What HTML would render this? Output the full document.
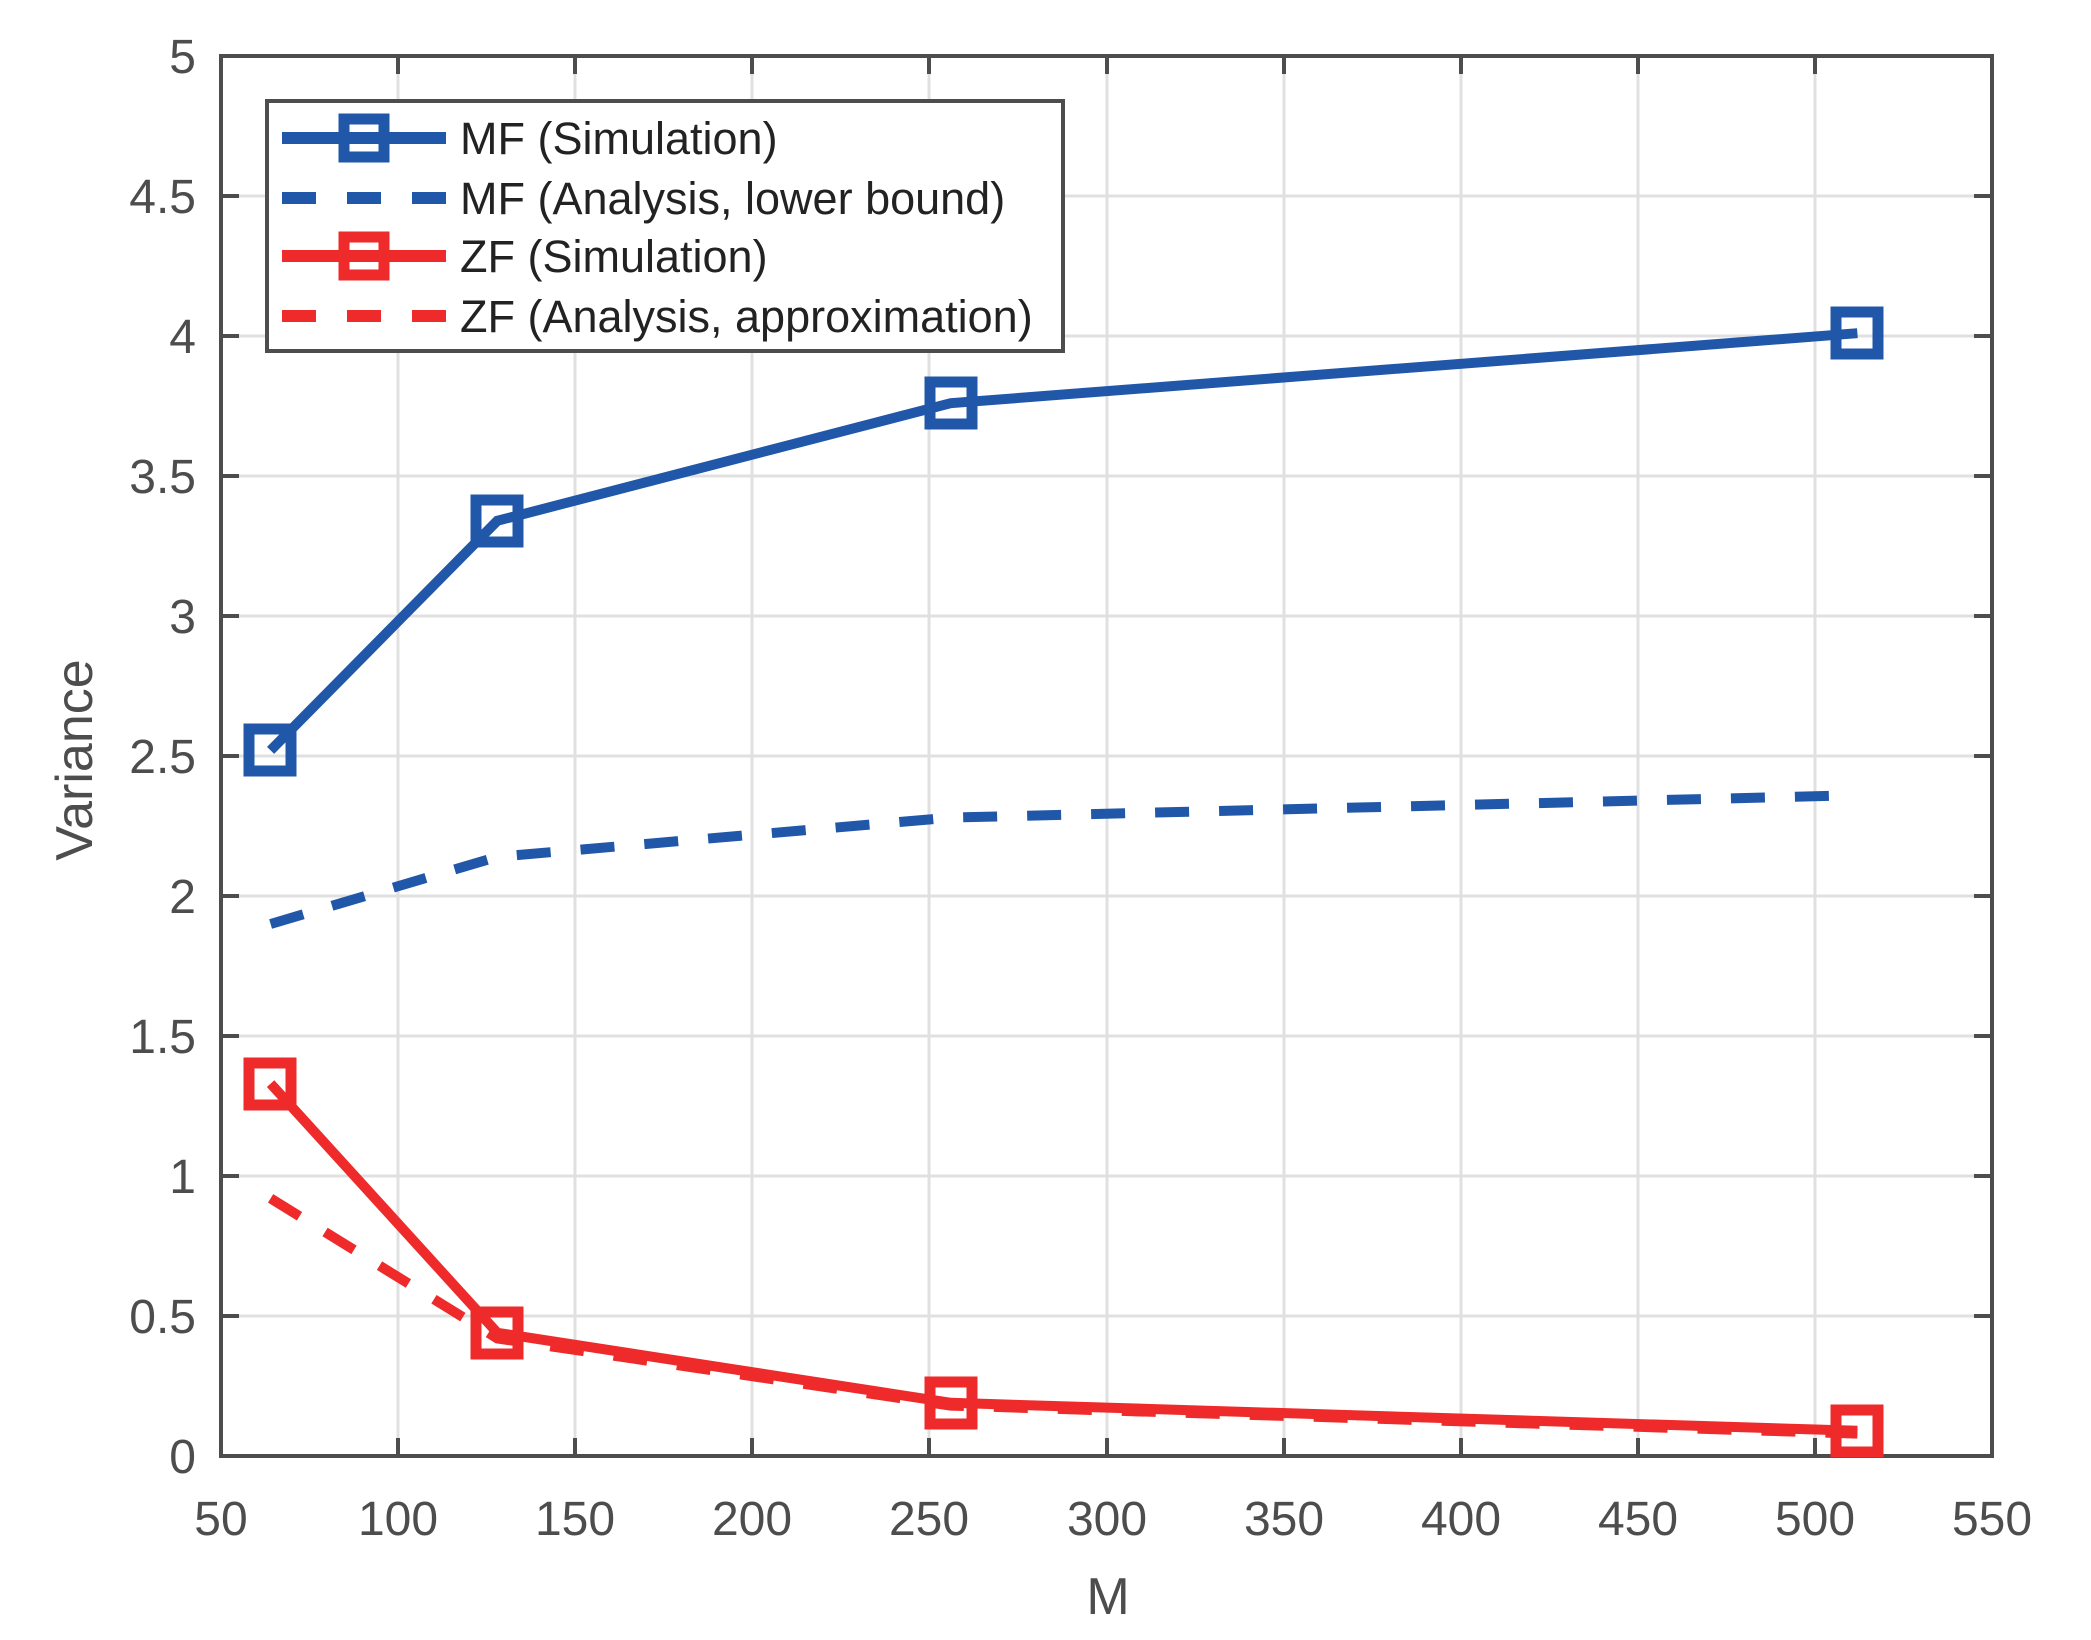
<!DOCTYPE html>
<html><head><meta charset="utf-8"><style>body{margin:0;background:#fff}svg{display:block}</style></head><body>
<svg width="2091" height="1640" viewBox="0 0 2091 1640" xmlns="http://www.w3.org/2000/svg" font-family="Liberation Sans, sans-serif">
<rect width="2091" height="1640" fill="#fff"/>
<g stroke="#e0e0e0" stroke-width="3">
<line x1="398" y1="56" x2="398" y2="1456"/><line x1="575" y1="56" x2="575" y2="1456"/><line x1="752" y1="56" x2="752" y2="1456"/><line x1="929" y1="56" x2="929" y2="1456"/><line x1="1107" y1="56" x2="1107" y2="1456"/><line x1="1284" y1="56" x2="1284" y2="1456"/><line x1="1461" y1="56" x2="1461" y2="1456"/><line x1="1638" y1="56" x2="1638" y2="1456"/><line x1="1815" y1="56" x2="1815" y2="1456"/>
<line x1="221" y1="196" x2="1992" y2="196"/><line x1="221" y1="336" x2="1992" y2="336"/><line x1="221" y1="476" x2="1992" y2="476"/><line x1="221" y1="616" x2="1992" y2="616"/><line x1="221" y1="756" x2="1992" y2="756"/><line x1="221" y1="896" x2="1992" y2="896"/><line x1="221" y1="1036" x2="1992" y2="1036"/><line x1="221" y1="1176" x2="1992" y2="1176"/><line x1="221" y1="1316" x2="1992" y2="1316"/>
</g>
<g stroke="#4d4d4d" stroke-width="4">
<rect x="221" y="56" width="1771" height="1400" fill="none"/>
<path d="M398 1456v-18M575 1456v-18M752 1456v-18M929 1456v-18M1107 1456v-18M1284 1456v-18M1461 1456v-18M1638 1456v-18M1815 1456v-18M398 56v18M575 56v18M752 56v18M929 56v18M1107 56v18M1284 56v18M1461 56v18M1638 56v18M1815 56v18"/>
<path d="M221 196h18M221 336h18M221 476h18M221 616h18M221 756h18M221 896h18M221 1036h18M221 1176h18M221 1316h18M1992 196h-18M1992 336h-18M1992 476h-18M1992 616h-18M1992 756h-18M1992 896h-18M1992 1036h-18M1992 1176h-18M1992 1316h-18"/>
</g>
<g fill="#4d4d4d" font-size="48" text-anchor="end">
<text x="196" y="73">5</text><text x="196" y="213">4.5</text><text x="196" y="353">4</text><text x="196" y="493">3.5</text><text x="196" y="633">3</text><text x="196" y="773">2.5</text><text x="196" y="913">2</text><text x="196" y="1053">1.5</text><text x="196" y="1193">1</text><text x="196" y="1333">0.5</text><text x="196" y="1473">0</text>
</g>
<g fill="#4d4d4d" font-size="48" text-anchor="middle">
<text x="221" y="1535">50</text><text x="398" y="1535">100</text><text x="575" y="1535">150</text><text x="752" y="1535">200</text><text x="929" y="1535">250</text><text x="1107" y="1535">300</text><text x="1284" y="1535">350</text><text x="1461" y="1535">400</text><text x="1638" y="1535">450</text><text x="1815" y="1535">500</text><text x="1992" y="1535">550</text>
<text x="1108" y="1614" font-size="52">M</text>
<text transform="translate(92,760) rotate(-90)" font-size="52">Variance</text>
</g>
<g fill="none" stroke-width="10">
<polyline stroke="#2157a8" stroke-dasharray="34 30" points="270.6,924 497.3,856.8 950.7,817.6 1857.4,795.2"/>
<polyline stroke="#ee2a2a" stroke-dasharray="34 30" points="270.6,1198.4 497.3,1338.4 950.7,1405.6 1857.4,1433.6"/>
<polyline stroke="#2157a8" points="270.6,750.4 497.3,520.8 950.7,403.2 1857.4,333.2"/>
<polyline stroke="#ee2a2a" points="270.6,1083.6 497.3,1332.8 950.7,1402.8 1857.4,1430.8"/>
</g>
<g fill="none" stroke-width="11">
<g stroke="#2157a8"><rect x="249" y="729" width="42" height="42"/><rect x="476" y="500" width="42" height="42"/><rect x="930" y="382" width="42" height="42"/><rect x="1836" y="312" width="42" height="42"/></g>
<g stroke="#ee2a2a"><rect x="249" y="1063" width="42" height="42"/><rect x="476" y="1312" width="42" height="42"/><rect x="930" y="1382" width="42" height="42"/><rect x="1836" y="1410" width="42" height="42"/></g>
</g>
<rect x="267" y="101" width="796" height="250" fill="#fff" stroke="#4d4d4d" stroke-width="4"/>
<g stroke-width="12" fill="none">
<line x1="282" y1="138" x2="446" y2="138" stroke="#2157a8"/>
<rect x="344" y="119" width="40" height="38" stroke="#2157a8" stroke-width="11"/>
<line x1="282" y1="198" x2="446" y2="198" stroke="#2157a8" stroke-dasharray="34 31"/>
<line x1="282" y1="256" x2="446" y2="256" stroke="#ee2a2a"/>
<rect x="344" y="237" width="40" height="38" stroke="#ee2a2a" stroke-width="11"/>
<line x1="282" y1="316" x2="446" y2="316" stroke="#ee2a2a" stroke-dasharray="34 31"/>
</g>
<g fill="#222" font-size="45">
<text x="460" y="154">MF (Simulation)</text>
<text x="460" y="214">MF (Analysis, lower bound)</text>
<text x="460" y="272">ZF (Simulation)</text>
<text x="460" y="332">ZF (Analysis, approximation)</text>
</g>
</svg>
</body></html>
